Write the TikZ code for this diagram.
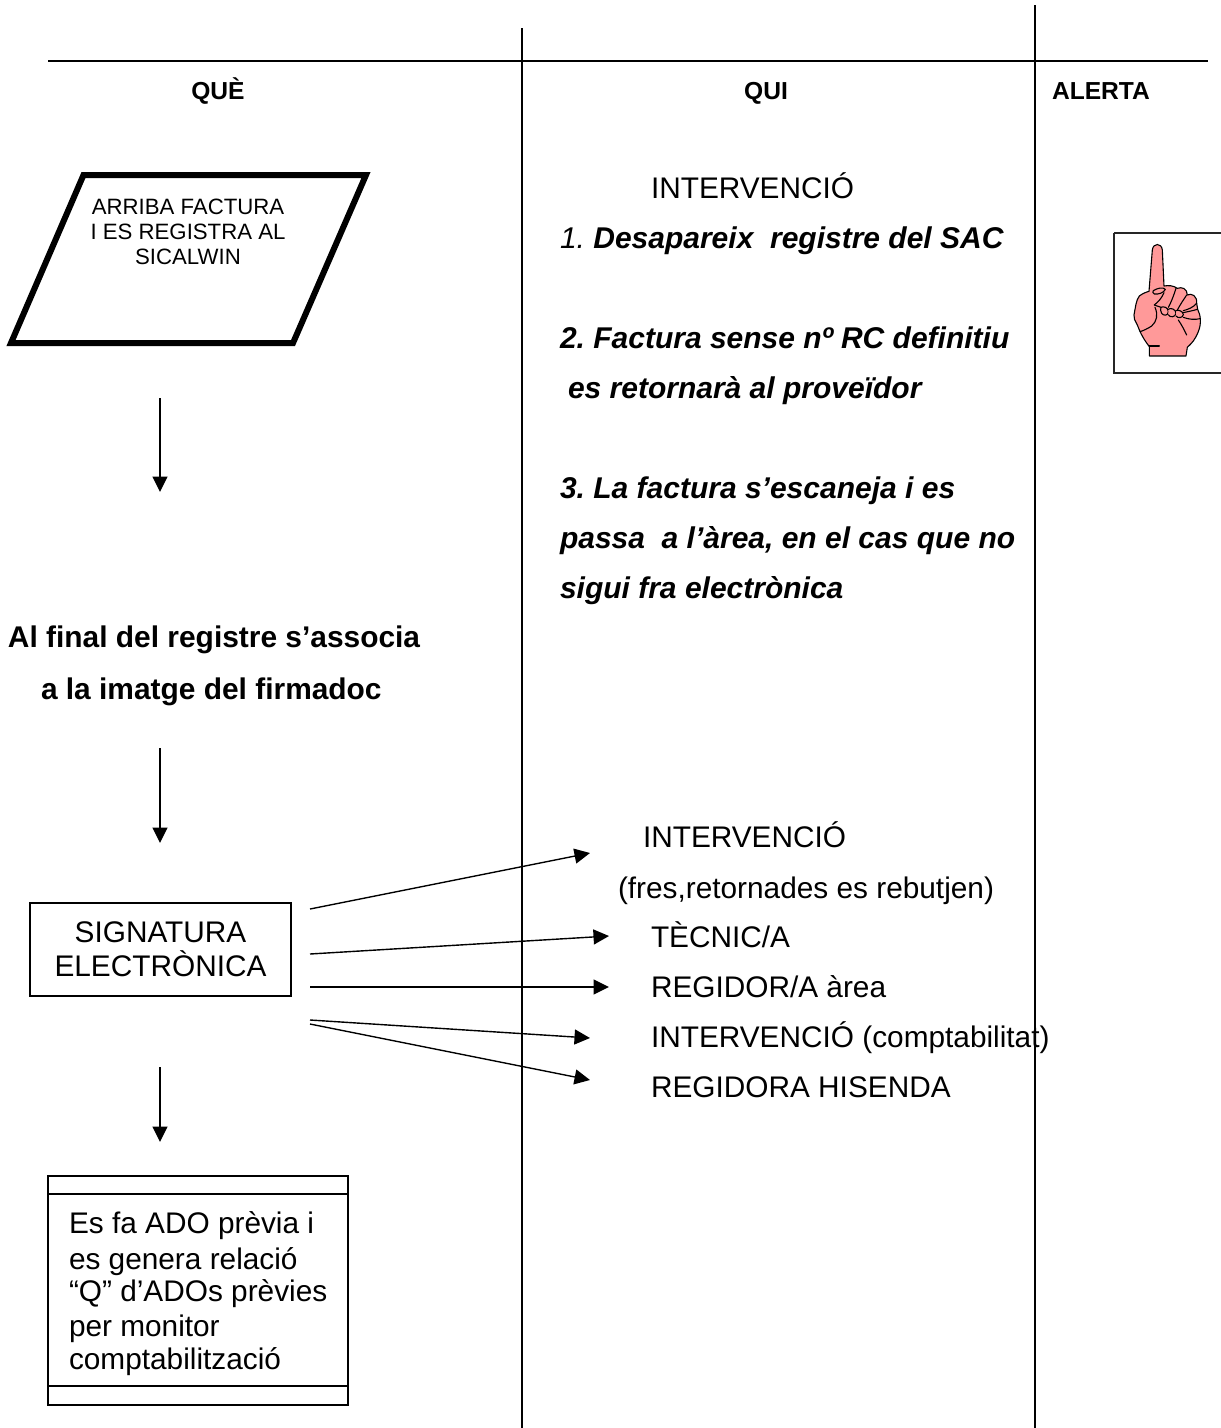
\documentclass[tikz,border=0pt]{standalone}
\usepackage{fontspec}
\setmainfont{Liberation Sans}
\usetikzlibrary{arrows.meta}
\definecolor{handpink}{HTML}{FF9999}
\frenchspacing
\tikzset{
  rule/.style={line width=1.4pt,black},
  flow/.style={line width=1.4pt,black,-{Triangle[length=15.5pt,width=15pt]}},
  txt/.style={anchor=base west,inner sep=0pt,outer sep=0pt,yshift=-1pt,font=\fontsize{29.8}{32}\selectfont},
  head/.style={anchor=base,inner sep=0pt,outer sep=0pt,yshift=-1pt,font=\fontsize{24.6}{26}\selectfont\bfseries},
  strong/.style={txt,font=\fontsize{29.9}{32}\selectfont\bfseries},
  strongit/.style={txt,font=\fontsize{30}{32}\selectfont\bfseries\itshape},
  hand/.style={line width=1.1pt,black,line join=round,line cap=round},
}
\begin{document}
\begin{tikzpicture}[x=1pt,y=-1pt]
\useasboundingbox (0,0) rectangle (1221,1428);
% frame lines
\coordinate (hl) at (48,61); \coordinate (hr) at (1208,61);
\coordinate (v1t) at (522,28); \coordinate (v1b) at (522,1428);
\coordinate (v2t) at (1035,5); \coordinate (v2b) at (1035,1428);
\draw[rule] (hl) -- (hr);
\draw[rule] (v1t) -- (v1b);
\draw[rule] (v2t) -- (v2b);
\node[head] (hque) at (218,98) {QUÈ};
\node[head] (hqui) at (766,98) {QUI};
\node[head,anchor=base west] (hale) at (1052,98) {ALERTA};
% parallelogram
\coordinate (pa) at (83.5,175); \coordinate (pb) at (366,175);
\coordinate (pc) at (293,343); \coordinate (pd) at (11,343);
\draw[line width=6pt,line join=miter] (pa) -- (pb) -- (pc) -- (pd) -- cycle;
\node[anchor=base,inner sep=0pt,font=\fontsize{22.2}{24}\selectfont] (p1) at (188,214) {ARRIBA FACTURA};
\node[anchor=base,inner sep=0pt,font=\fontsize{22.2}{24}\selectfont] (p2) at (188,239) {I ES REGISTRA AL};
\node[anchor=base,inner sep=0pt,font=\fontsize{22.2}{24}\selectfont] (p3) at (188,264) {SICALWIN};
% left arrows
\coordinate (a1s) at (160,398); \coordinate (a1e) at (160,492);
\coordinate (a2s) at (160,748); \coordinate (a2e) at (160,843);
\coordinate (a3s) at (160,1067); \coordinate (a3e) at (160,1142);
\draw[flow] (a1s) -- (a1e);
\draw[flow] (a2s) -- (a2e);
\draw[flow] (a3s) -- (a3e);
\node[strong] (l1) at (8,646) {Al final del registre s’associa};
\node[strong] (l2) at (41,698) {a la imatge del firmadoc};
% signatura
\node[draw,line width=1.4pt,minimum width=261pt,minimum height=93pt,inner sep=0pt,align=center,
  font=\fontsize{29.8}{34}\selectfont] (sig) at (160.5,949.5) {SIGNATURA\\ELECTRÒNICA};
% ADO box
\coordinate (b1) at (48,1176); \coordinate (b2) at (348,1405);
\draw[line width=1.4pt] (b1) rectangle (b2);
\coordinate (c1) at (48,1194); \coordinate (c2) at (348,1194);
\coordinate (c3) at (48,1386); \coordinate (c4) at (348,1386);
\draw[line width=1.4pt] (c1) -- (c2);
\draw[line width=1.4pt] (c3) -- (c4);
\node[txt] (d1) at (69,1232) {Es fa ADO prèvia i};
\node[txt] (d2) at (69,1268) {es genera relació};
\node[txt] (d3) at (69,1300) {“Q” d’ADOs prèvies};
\node[txt] (d4) at (69,1335) {per monitor};
\node[txt] (d5) at (69,1368) {comptabilització};
% QUI text
\node[txt] (q0) at (651,197) {INTERVENCIÓ};
\node[txt,font=\fontsize{30}{32}\selectfont] (q1) at (560,247) {\itshape 1. \bfseries Desapareix\ \ registre del SAC};
\node[strongit] (q2) at (560,347) {2. Factura sense nº RC definitiu};
\node[strongit] (q3) at (568,397) {es retornarà al proveïdor};
\node[strongit] (q4) at (560,497) {3. La factura s’escaneja i es};
\node[strongit] (q5) at (560,547) {passa\ \ a l’àrea, en el cas que no};
\node[strongit] (q6) at (560,597) {sigui fra electrònica};
\node[txt] (r0) at (643,846) {INTERVENCIÓ};
\node[txt] (r1) at (618,897) {(fres,retornades es rebutjen)};
\node[txt] (r2) at (651,946) {TÈCNIC/A};
\node[txt] (r3) at (651,996) {REGIDOR/A àrea};
\node[txt] (r4) at (651,1046) {INTERVENCIÓ (comptabilitat)};
\node[txt] (r5) at (651,1096) {REGIDORA HISENDA};
% fan arrows
\coordinate (f1s) at (310,909); \coordinate (f1e) at (590,853);
\coordinate (f2s) at (310,954); \coordinate (f2e) at (609,936);
\coordinate (f3s) at (310,987); \coordinate (f3e) at (609,987);
\coordinate (f4s) at (310,1020); \coordinate (f4e) at (590,1038);
\coordinate (f5s) at (310,1024); \coordinate (f5e) at (590,1080);
\draw[flow] (f1s) -- (f1e);
\draw[flow] (f2s) -- (f2e);
\draw[flow] (f3s) -- (f3e);
\draw[flow] (f4s) -- (f4e);
\draw[flow] (f5s) -- (f5e);
% alert box with hand
\coordinate (h1) at (1114,233); \coordinate (h2) at (1221,373);
\draw[line width=1.6pt,draw=black!85] (h1) -- (1221,233);
\draw[line width=1.6pt,draw=black!85] (h1) -- (1114,373) -- (1221,373);
\begin{scope}[shift={(1100,220)},x=0.3333pt,y=-0.3333pt]
\draw[hand,fill=handpink]
 (148,408) -- (148,380) .. controls (125,350) and (118,330) .. (112,315)
 .. controls (105,300) and (100,295) .. (102,285)
 .. controls (106,265) and (108,240) .. (118,228)
 .. controls (128,220) and (140,216) .. (147,214)
 -- (157,90) .. controls (159,68) and (185,68) .. (187,90)
 -- (192,198) .. controls (205,196) and (220,196) .. (232,205)
 .. controls (245,200) and (262,205) .. (262,225)
 .. controls (275,218) and (292,228) .. (290,250)
 -- (293,268) .. controls (302,285) and (305,310) .. (295,335)
 .. controls (285,360) and (275,370) .. (262,382)
 -- (258,408) -- cycle;
\draw[hand] (160,212) .. controls (170,205) and (190,200) .. (196,208)
 .. controls (192,218) and (175,224) .. (163,222) .. controls (158,220) and (157,215) .. (160,212);
\draw[hand] (192,218) .. controls (185,235) and (175,245) .. (163,255);
\draw[hand] (228,205) .. controls (220,230) and (212,250) .. (205,262);
\draw[hand] (260,225) .. controls (250,240) and (240,255) .. (232,270);
\draw[hand] (290,250) .. controls (280,262) and (265,268) .. (250,272);
\draw[hand] (292,268) .. controls (280,272) and (262,275) .. (250,278);
\draw[hand,fill=handpink] (183,262) .. controls (190,258) and (205,262) .. (205,275) .. controls (205,288) and (190,288) .. (185,280) .. controls (182,272) and (180,268) .. (183,262);
\draw[hand,fill=handpink] (205,268) .. controls (212,262) and (228,268) .. (228,280) .. controls (226,292) and (210,294) .. (205,284);
\draw[hand,fill=handpink] (228,272) .. controls (235,268) and (250,274) .. (250,284) .. controls (248,294) and (234,296) .. (228,288);
\draw[hand] (163,255) .. controls (170,258) and (178,260) .. (183,262);
\draw[hand] (165,262) .. controls (175,285) and (170,305) .. (155,318) .. controls (145,325) and (130,332) .. (120,335);
\draw[hand] (250,292) .. controls (265,298) and (285,300) .. (300,296);
\draw[hand] (235,300) .. controls (245,315) and (252,328) .. (260,345);
\draw[hand] (148,378) -- (178,378);
\end{scope}
\end{tikzpicture}
\end{document}
